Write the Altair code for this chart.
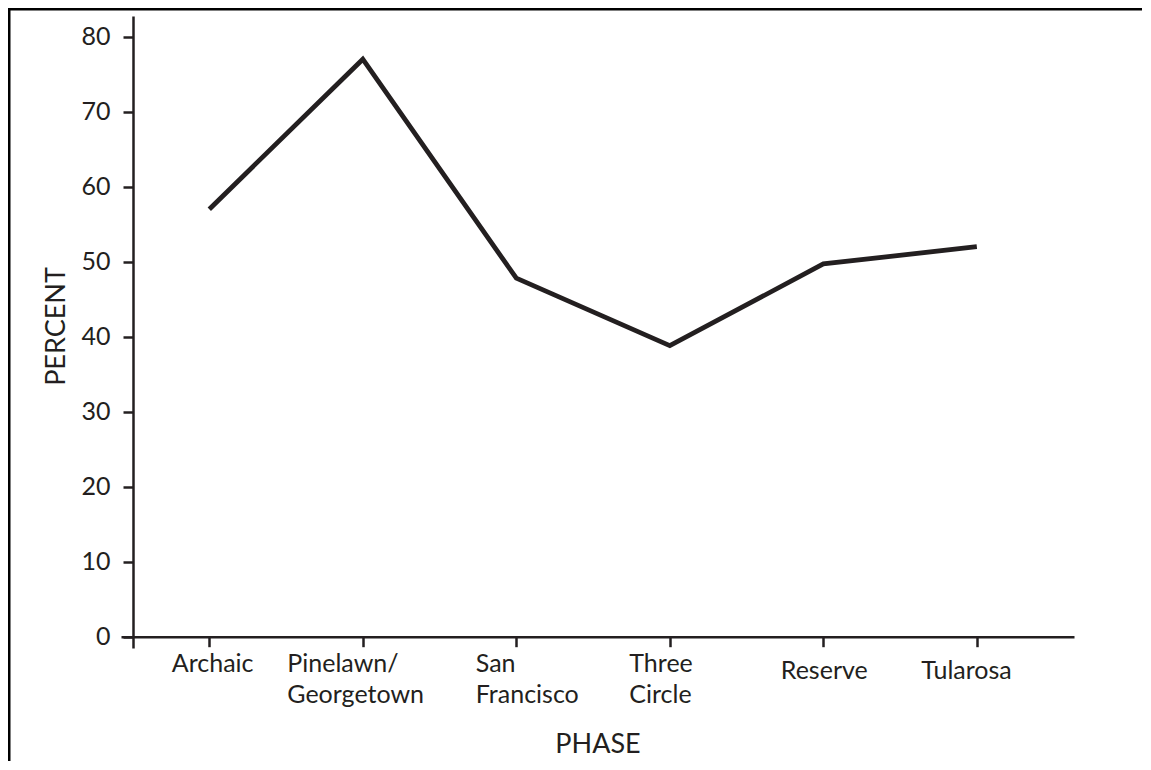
import json
import altair as alt
import pandas as pd

# ---- data ----
phases = ["Archaic", "Pinelawn/\nGeorgetown", "San\nFrancisco", "Three\nCircle", "Reserve", "Tularosa"]
percent = [57.0, 77.0, 47.8, 38.8, 49.7, 52.0]
y_ticks = [0, 10, 20, 30, 40, 50, 60, 70, 80]

df = pd.DataFrame({"idx": list(range(len(phases))), "phase": phases, "percent": percent})

FONT = "Lato"
INK = "#231f20"
W, H = 953, 632
PAD = {"left": 113, "top": 8, "right": 68, "bottom": 113}

label_arrays = json.dumps([p.split("\n") for p in phases])

x_axis = alt.Axis(
    title="PHASE",
    values=list(range(len(phases))),
    labelExpr=f"{label_arrays}[datum.value]",
    labelFont=FONT, labelFontSize=25, labelColor=INK, labelLineHeight=31,
    labelAlign="left",
    labelOffset={"condition": [
        {"test": "datum.value == 1", "value": -76},
        {"test": "datum.value == 5", "value": -56},
        {"test": "datum.value == 0", "value": -38},
        {"test": "datum.value == 4", "value": -43},
    ], "value": -41},
    labelPadding={"condition": {"test": "datum.value >= 4", "value": 12}, "value": 5},
    labelFlush=False, labelOverlap=False,
    tickSize=10, tickWidth=2.5, tickColor=INK,
    domainWidth=2.5, domainColor=INK,
    grid=False, offset=-11.3,
    titleFont=FONT, titleFontSize=27, titleFontWeight="normal", titleColor=INK,
    titlePadding=24,
)

y_axis = alt.Axis(
    title="PERCENT",
    values=y_ticks,
    labelFont=FONT, labelFontSize=25, labelColor=INK, labelPadding=13,
    labelFlush=False, labelOverlap=False,
    tickSize=10, tickWidth=2.5, tickColor=INK,
    domainWidth=2.5, domainColor=INK,
    grid=False, offset=-12,
    titleFont=FONT, titleFontSize=27, titleFontWeight="normal", titleColor=INK,
    titlePadding=10, titleY=310,
)

line = alt.Chart(df).mark_line(color=INK, strokeWidth=4.8, strokeJoin="miter", strokeCap="butt").encode(
    x=alt.X("idx:Q", axis=x_axis, scale=alt.Scale(domain=[-0.5752, 5.633], nice=False, zero=False)),
    y=alt.Y("percent:Q", axis=y_axis, scale=alt.Scale(domain=[-1.51, 82.76], nice=False, zero=False)),
)

frame_df = pd.DataFrame({"a": [0]})
frame_top = alt.Chart(frame_df).mark_rule(color="#000000", strokeWidth=2.5).encode(
    x=alt.value(-PAD["left"]), x2=alt.value(W + PAD["right"]), y=alt.value(-PAD["top"] + 1.25)
)
frame_left = alt.Chart(frame_df).mark_rule(color="#000000", strokeWidth=2.5).encode(
    x=alt.value(-PAD["left"] + 1.25), y=alt.value(-PAD["top"]), y2=alt.value(H + PAD["bottom"])
)

chart = alt.layer(frame_top, frame_left, line).properties(
    width=W, height=H, autosize=alt.AutoSizeParams(type="none"), padding=PAD,
    background="white",
).configure_view(stroke=None)

chart.save("out.html", embed_options={"renderer": "svg", "actions": False})
